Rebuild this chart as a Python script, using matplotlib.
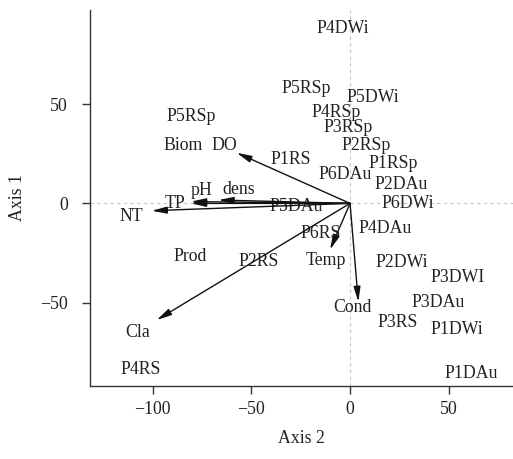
import matplotlib
matplotlib.use("Agg")
import matplotlib.pyplot as plt

plt.rcParams['font.family'] = ['Liberation Serif', 'DejaVu Serif']
plt.rcParams['font.size'] = 12.8

# site scores (Axis 2, Axis 1)
sites = ['P4DWi', 'P5RSp', 'P5DWi', 'P5RSp', 'P4RSp', 'P3RSp', 'P2RSp', 'P1RS',
         'P1RSp', 'P6DAu', 'P2DAu', 'P5DAu', 'P6DWi', 'P4DAu', 'P6RS', 'P2RS',
         'P2DWi', 'P3DWI', 'P3DAu', 'P3RS', 'P1DWi', 'P4RS', 'P1DAu']
site_x = [-3.7, -22.4, 11.6, -80.5, -7.1, -1.0, 8.1, -30.0,
          21.9, -2.6, 25.9, -27.4, 29.4, 18.0, -14.8, -46.2,
          26.1, 54.7, 44.6, 24.1, 54.2, -105.9, 61.5]
site_y = [87.9, 58.1, 53.4, 43.8, 45.6, 38.0, 29.2, 22.0,
          19.9, 14.4, 9.6, -1.5, -0.3, -12.8, -15.0, -29.2,
          -30.0, -37.5, -50.1, -60.2, -63.7, -83.8, -85.9]

# environmental variables: arrow tips
arrow_names = ['DO', 'dens', 'pH', 'TP', 'NT', 'Cla', 'Temp', 'Cond']
arrow_x = [-57.4, -66.6, -80.5, -80.5, -100.4, -97.9, -10.1, 4.2]
arrow_y = [25.5, 1.7, 0.9, 0.0, -3.7, -58.8, -23.3, -49.6]

# variable label positions
var_names = ['Biom', 'DO', 'pH', 'dens', 'TP', 'NT', 'Prod', 'Temp', 'Cond', 'Cla']
var_x = [-84.7, -63.8, -75.3, -56.2, -88.5, -110.7, -81.0, -12.4, 1.0, -107.3]
var_y = [29.3, 29.3, 6.4, 7.1, -0.3, -6.5, -26.7, -28.9, -52.7, -65.1]

xticks = [-100, -50, 0, 50]
yticks = [-50, 0, 50]

fig = plt.figure(figsize=(5.13, 4.59), dpi=100)
ax = fig.add_axes([0.176, 0.160, 0.824, 0.818])

ax.axhline(0, color='#c4c4c4', lw=0.8, ls=(0, (3, 3)), zorder=0)
ax.axvline(0, color='#c4c4c4', lw=0.8, ls=(0, (3, 3)), zorder=0)

for name, x, y in zip(sites, site_x, site_y):
    ax.text(x, y, name, ha='center', va='center', color='#222222')

for name, x, y in zip(var_names, var_x, var_y):
    ax.text(x, y, name, ha='center', va='center', color='#222222')

for name, x, y in zip(arrow_names, arrow_x, arrow_y):
    ax.annotate('', xy=(x, y), xytext=(0, 0),
                arrowprops=dict(arrowstyle='-|>,head_length=0.7,head_width=0.16',
                                color='#111111', lw=1.0, shrinkA=0, shrinkB=0))

ax.set_xlim(-131.5, 82.5)
ax.set_ylim(-91.8, 97.4)
ax.set_xticks(xticks)
ax.set_yticks(yticks)

for s in ['top', 'right']:
    ax.spines[s].set_visible(False)
for s in ['left', 'bottom']:
    ax.spines[s].set_color('#333333')
    ax.spines[s].set_linewidth(1.0)

ax.tick_params(axis='both', direction='out', length=5.5, width=1.0,
               color='#333333', labelcolor='#222222')
ax.tick_params(axis='x', pad=5.5)
ax.tick_params(axis='y', pad=10.5)

ax.set_xlabel('Axis 2', color='#222222')
ax.set_ylabel('Axis 1', color='#222222')
ax.xaxis.set_label_coords(0.500, -0.14)
ax.yaxis.set_label_coords(-0.172, 0.5)
ax.xaxis.label.set_va('center')
ax.yaxis.label.set_va('center')

fig.savefig('out.png', dpi=100)
